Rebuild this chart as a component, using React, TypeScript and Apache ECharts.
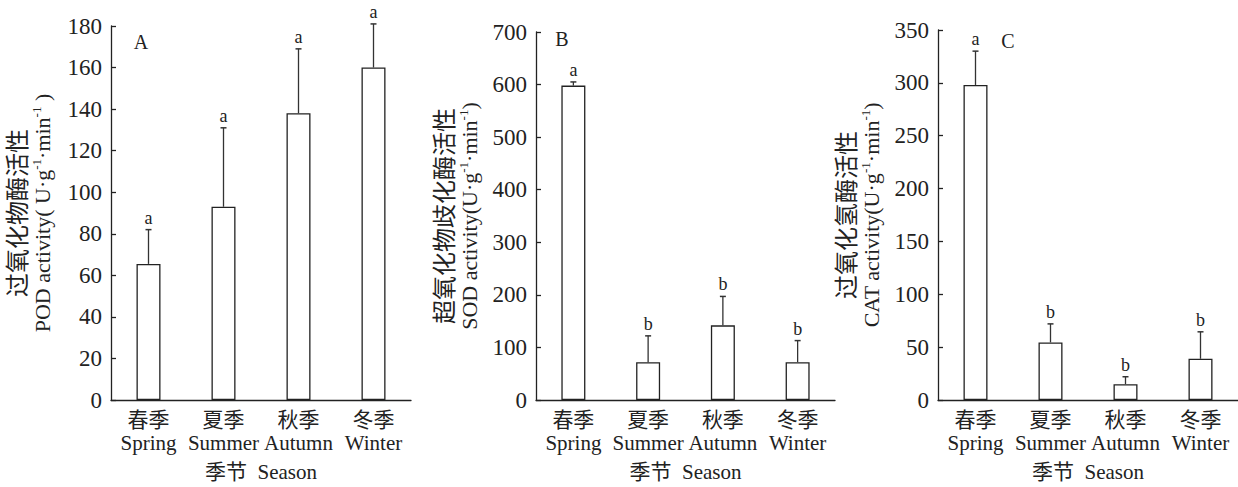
import React, { useEffect, useRef } from "react";
import * as echarts from "echarts";

const categoriesCn = ["春季", "夏季", "秋季", "冬季"];
const categoriesEn = ["Spring", "Summer", "Autumn", "Winter"];

const podMean = [65.5, 93, 138, 160];
const podUpper = [82, 131, 169, 181];
const podLetters = ["a", "a", "a", "a"];

const sodMean = [598, 72, 142, 72];
const sodUpper = [605, 122, 197, 113];
const sodLetters = ["a", "b", "b", "b"];

const catMean = [298, 54.5, 15, 39];
const catUpper = [330, 72, 22, 64.5];
const catLetters = ["a", "b", "b", "b"];

const yMax = [180, 700, 350];
const yInterval = [20, 100, 50];
const panelLetters = ["A", "B", "C"];
const yNamesCn = ["过氧化物酶活性", "超氧化物歧化酶活性", "过氧化氢酶活性"];
const yNamesEn = [
  ["POD activity( U·g", "·min", " )"],
  ["SOD activity(U·g", "·min", ")"],
  ["CAT activity(U·g", "·min", ")"],
];

const FONT = '"Liberation Serif", "Noto Sans CJK SC", serif';
const INK = "#222";

export default function App() {
  const ref = useRef<HTMLDivElement>(null);

  useEffect(() => {
    document.body.style.margin = "0";
    if (!ref.current) return;
    const chart = echarts.init(ref.current, null, { renderer: "svg" });

    const means = [podMean, sodMean, catMean];
    const uppers = [podUpper, sodUpper, catUpper];
    const letters = [podLetters, sodLetters, catLetters];

    const grids = [
      { left: 111, top: 26, width: 300, height: 380 },
      { left: 536, top: 32, width: 299, height: 374 },
      { left: 938, top: 30, width: 300, height: 376 },
    ];

    const xAxes = grids.map((_, i) => ({
      type: "category",
      gridIndex: i,
      data: categoriesCn.map((c, k) => c + "\n" + categoriesEn[k]),
      boundaryGap: true,
      axisLine: { lineStyle: { color: INK, width: 1.3 } },
      axisTick: { inside: true, length: 5, lineStyle: { color: INK, width: 1.3 } },
      axisLabel: {
        margin: 8,
        fontFamily: FONT,
        fontSize: 21,
        lineHeight: 23,
        color: INK,
        interval: 0,
      },
      name: "季节  Season",
      nameLocation: "middle",
      nameGap: 61,
      nameTextStyle: { fontFamily: FONT, fontSize: 21, color: INK },
    }));

    const yAxes = grids.map((_, i) => ({
      type: "value",
      gridIndex: i,
      min: 0,
      max: yMax[i],
      interval: yInterval[i],
      splitLine: { show: false },
      axisLine: { show: true, lineStyle: { color: INK, width: 1.3 } },
      axisTick: { show: true, inside: true, length: 5, lineStyle: { color: INK, width: 1.3 } },
      axisLabel: { margin: 9, fontFamily: FONT, fontSize: 23, color: INK },
      name:
        "{cn|" + yNamesCn[i] + "}\n{en|" + yNamesEn[i][0] + "}{sup|-1}{en|" +
        yNamesEn[i][1] + "}{sup|-1}{en|" + yNamesEn[i][2] + "}",
      nameLocation: "middle",
      nameGap: i === 0 ? 57 : 55,
      nameTextStyle: {
        fontFamily: FONT,
        color: INK,
        rich: {
          cn: { fontFamily: FONT, fontSize: 24, lineHeight: 25, color: INK },
          en: { fontFamily: FONT, fontSize: 22, lineHeight: 24, color: INK },
          sup: { fontFamily: FONT, fontSize: 13, lineHeight: 24, verticalAlign: "top", color: INK },
        },
      },
    }));

    const series: any[] = [];
    grids.forEach((_, i) => {
      series.push({
        type: "bar",
        xAxisIndex: i,
        yAxisIndex: i,
        data: means[i],
        barWidth: 24,
        itemStyle: { color: "#fff", borderColor: INK, borderWidth: 1.3 },
        silent: true,
      });
      const lt = letters[i];
      series.push({
        type: "custom",
        xAxisIndex: i,
        yAxisIndex: i,
        data: means[i].map((m, k) => [k, m, uppers[i][k]]),
        renderItem: (params: any, api: any) => {
          const base = api.coord([api.value(0), api.value(1)]);
          const top = api.coord([api.value(0), api.value(2)]);
          const cap = 3;
          return {
            type: "group",
            children: [
              {
                type: "line",
                shape: { x1: base[0], y1: base[1], x2: base[0], y2: top[1] },
                style: { stroke: "#333", lineWidth: 1.3 },
              },
              {
                type: "line",
                shape: { x1: base[0] - cap, y1: top[1], x2: base[0] + cap, y2: top[1] },
                style: { stroke: "#333", lineWidth: 1.5 },
              },
              {
                type: "text",
                x: base[0],
                y: top[1] - 3,
                style: {
                  text: lt[params.dataIndex],
                  textAlign: "center",
                  textVerticalAlign: "bottom",
                  fontFamily: FONT,
                  fontSize: 18,
                  fill: INK,
                },
              },
            ],
          };
        },
        silent: true,
        z: 3,
      });
    });

    const panelPos = [
      [141, 42],
      [562, 39],
      [1008, 41],
    ];

    chart.setOption({
      animation: false,
      backgroundColor: "#fff",
      grid: grids,
      xAxis: xAxes,
      yAxis: yAxes,
      series,
      graphic: panelLetters.map((t, i) => ({
        type: "text",
        x: panelPos[i][0],
        y: panelPos[i][1],
        style: {
          text: t,
          textAlign: "center",
          textVerticalAlign: "middle",
          fontFamily: FONT,
          fontSize: 20,
          fill: INK,
        },
      })),
    });

    return () => chart.dispose();
  }, []);

  return <div ref={ref} style={{ width: 1238, height: 487 }} />;
}
